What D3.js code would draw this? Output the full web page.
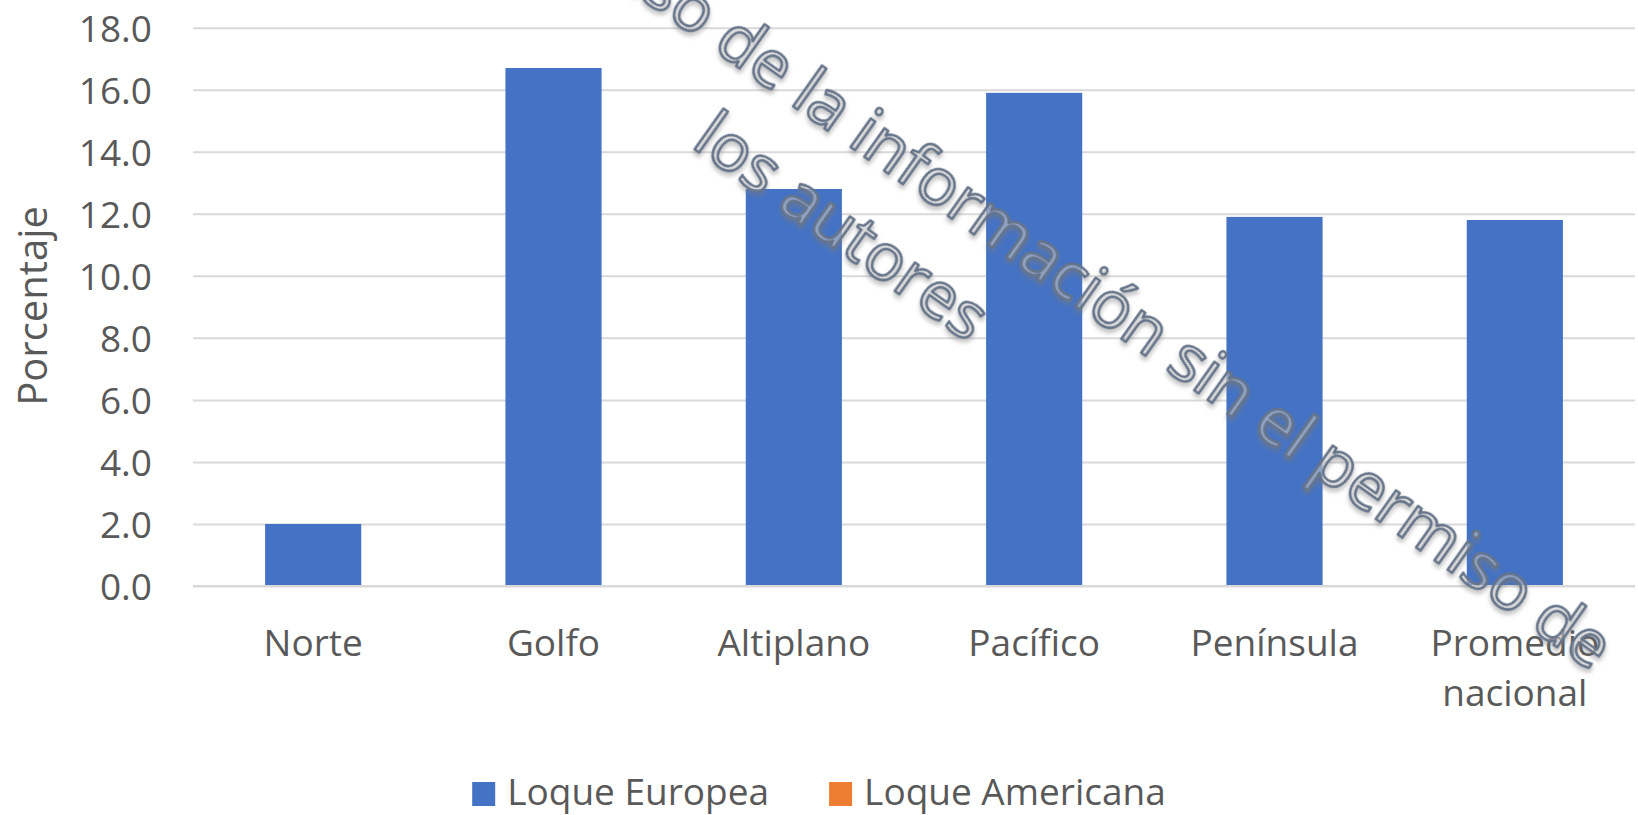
<!doctype html>
<html lang="es">
<head>
    <meta charset="UTF-8">
    <title>Porcentaje por región</title>
    <style>
        body { margin: 0; background: #fff; }
        text { font-family: 'Open Sans', 'Noto Sans', sans-serif; fill: #595959; }
    </style>
</head>
<body>
<div id="chart"></div>

<script src="https://d3js.org/d3.v7.min.js"></script>
<script>

    // data
    const regiones = ['Norte', 'Golfo', 'Altiplano', 'Pacífico', 'Península', 'Promedio nacional']
    const europea = [2.0, 16.7, 12.8, 15.9, 11.9, 11.8]
    const americana = [null, null, null, null, null, null]
    const series = ['Loque Europea', 'Loque Americana']
    const colores = ['#4472C4', '#ED7D31']
    const yTicks = [0, 2, 4, 6, 8, 10, 12, 14, 16, 18]
    const yTitulo = 'Porcentaje'
    const marcaLinea1 = 'Prohibido el uso de la información sin el permiso de'
    const marcaLinea2 = 'los autores'

    var W = 1638, H = 815
    var margin = { top: 27.7, right: 3, bottom: 229, left: 193 }
    var width = W - margin.left - margin.right,
        height = H - margin.top - margin.bottom

    var svg = d3.select('#chart')
        .append('svg')
            .attr('width', W)
            .attr('height', H)

    var defs = svg.append('defs')
    defs.append('filter')
        .attr('id', 'sombra')
        .attr('x', '-10%').attr('y', '-10%')
        .attr('width', '120%').attr('height', '120%')
      .append('feDropShadow')
        .attr('dx', 2).attr('dy', 3)
        .attr('stdDeviation', 2)
        .attr('flood-color', '#7a7a7a')
        .attr('flood-opacity', 0.55)

    var g = svg.append('g')
        .attr('transform', 'translate(' + margin.left + ',' + margin.top + ')')

    // scales
    var xScale = d3.scaleBand()
        .domain(regiones)
        .range([0, width])
        .paddingInner(0.6)
        .paddingOuter(0.3)

    var yScale = d3.scaleLinear()
        .domain([0, 18])
        .range([height, 0])

    // gridlines
    g.append('g')
        .attr('class', 'grid')
        .call(d3.axisLeft(yScale).tickValues(yTicks).tickSize(-width).tickFormat(''))
        .call(s => s.select('.domain').remove())
        .call(s => s.selectAll('line').attr('stroke', '#d9d9d9').attr('stroke-width', 2))

    // y labels
    var yAxis = g.append('g')
        .call(d3.axisLeft(yScale).tickValues(yTicks).tickSize(0).tickPadding(41).tickFormat(d3.format('.1f')))
    yAxis.select('.domain').remove()
    yAxis.selectAll('text')
        .style('font-size', '37px')
        .attr('dy', '0.36em')

    // bars
    g.selectAll('.bar')
        .data(regiones.map((r, i) => ({ region: r, valor: europea[i] })))
        .enter()
        .append('rect')
        .attr('class', 'bar')
        .attr('x', d => xScale(d.region))
        .attr('y', d => yScale(d.valor))
        .attr('width', xScale.bandwidth())
        .attr('height', d => height - yScale(d.valor))
        .attr('fill', colores[0])

    // the second series has no values in the picture
    g.selectAll('.bar2')
        .data(regiones.map((r, i) => ({ region: r, valor: americana[i] })).filter(d => d.valor != null))
        .enter()
        .append('rect')
        .attr('class', 'bar2')
        .attr('x', d => xScale(d.region))
        .attr('y', d => yScale(d.valor))
        .attr('width', xScale.bandwidth())
        .attr('height', d => height - yScale(d.valor))
        .attr('fill', colores[1])

    // x axis line
    g.append('line')
        .attr('x1', 0).attr('x2', width)
        .attr('y1', yScale(0)).attr('y2', yScale(0))
        .attr('stroke', '#d9d9d9')
        .attr('stroke-width', 2)

    // x labels, wrapped on two lines like excel
    var xAxis = g.append('g')
        .attr('transform', 'translate(0,' + height + ')')
        .call(d3.axisBottom(xScale).tickSize(0).tickFormat(''))
    xAxis.select('.domain').remove()
    xAxis.selectAll('.tick').each(function(d) {
        var palabras = d.split(' ')
        var t = d3.select(this).append('text')
            .attr('text-anchor', 'middle')
            .style('font-size', '37px')
        palabras.forEach(function(p, i) {
            t.append('tspan')
                .attr('x', 0)
                .attr('y', 70 + i * 50)
                .text(p)
        })
    })

    // y title
    svg.append('text')
        .attr('transform', 'translate(47,306) rotate(-90)')
        .attr('text-anchor', 'middle')
        .style('font-size', '40px')
        .text(yTitulo)

    // legend
    var leyenda = svg.append('g')
    var lx = 0
    series.forEach(function(s, i) {
        var item = leyenda.append('g').attr('transform', 'translate(' + lx + ',0)')
        item.append('rect')
            .attr('x', 0).attr('y', -23)
            .attr('width', 23).attr('height', 24)
            .attr('fill', colores[i])
        var t = item.append('text')
            .attr('x', 35)
            .attr('y', 0)
            .style('font-size', '37px')
            .text(s)
        lx += 35 + t.node().getComputedTextLength() + 60
    })
    var lw = lx - 60
    leyenda.attr('transform', 'translate(' + (819 - lw / 2) + ',805)')

    // watermark
    var marca = svg.append('g')
        .attr('transform', 'translate(1592,672) rotate(35.3)')
        .attr('filter', 'url(#sombra)')
    marca.append('text')
        .attr('x', 0).attr('y', 0)
        .attr('text-anchor', 'end')
        .text(marcaLinea1)
    marca.append('text')
        .attr('x', -1040).attr('y', 92)
        .text(marcaLinea2)
    marca.selectAll('text')
        .style('font-size', '66px')
        .style('fill', '#dcdcdc')
        .style('fill-opacity', 0.4)
        .style('stroke', '#66748a')
        .style('stroke-width', 2.6)
        .style('stroke-linejoin', 'round')

</script>
</body>
</html>
